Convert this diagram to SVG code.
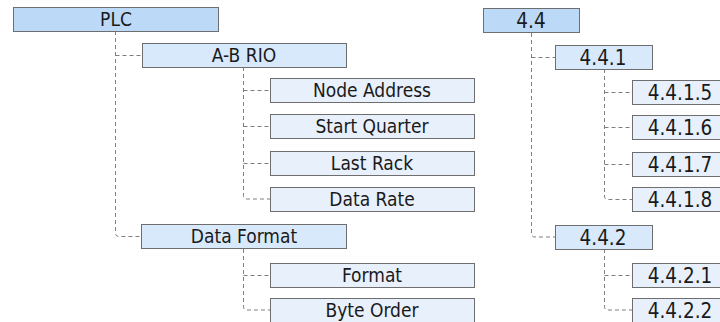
<svg xmlns="http://www.w3.org/2000/svg" width="720" height="322" viewBox="0 0 720 322">
<style>
.b{stroke:#6e6e6e;stroke-width:1}
.l1{fill:#bcdaf8}
.l2{fill:#d8e9fb}
.l3{fill:#e8f0fc}
.t{font-family:"DejaVu Sans Condensed","DejaVu Sans",sans-serif;font-stretch:condensed;fill:#1a1a1a;text-anchor:middle}
.tl{font-size:19px}
.tr{font-size:20.5px}
.c{fill:none;stroke:#7e7e7e;stroke-width:1;stroke-dasharray:4 3}
</style>
<rect width="720" height="322" fill="#ffffff"/>
<g id="connectors">
<path class="c" d="M115.5 31V233q0 3.5 3.5 3.5H141.5"/>
<path class="c" d="M115.5 55.5H142"/>
<path class="c" d="M243.5 67V195.5q0 3.5 3.5 3.5H270"/>
<path class="c" d="M243.5 90.5H270M243.5 126.5H270M243.5 163.5H270"/>
<path class="c" d="M243.5 249V306.5q0 3.5 3.5 3.5H270"/>
<path class="c" d="M243.5 275.5H270"/>
<path class="c" d="M531.5 33V233.5q0 3.5 3.5 3.5H555"/>
<path class="c" d="M531.5 57.5H555"/>
<path class="c" d="M604.5 69V196q0 3.5 3.5 3.5H632"/>
<path class="c" d="M604.5 92.5H632M604.5 127.5H632M604.5 164.5H632"/>
<path class="c" d="M604.5 249V306.5q0 3.5 3.5 3.5H632"/>
<path class="c" d="M604.5 275.5H632"/>
</g>
<g id="n-plc"><rect class="b l1" x="13.5" y="7.5" width="205" height="24"/><text class="t tl" x="116" y="26">PLC</text></g>
<g id="n-abrio"><rect class="b l2" x="142.5" y="43.5" width="204" height="24"/><text class="t tl" x="244" y="62">A-B RIO</text></g>
<g id="n-node"><rect class="b l3" x="270.5" y="78.5" width="204" height="24"/><text class="t tl" x="372" y="97">Node Address</text></g>
<g id="n-start"><rect class="b l3" x="270.5" y="114.5" width="204" height="24"/><text class="t tl" x="372" y="133">Start Quarter</text></g>
<g id="n-last"><rect class="b l3" x="270.5" y="151.5" width="204" height="24"/><text class="t tl" x="372" y="170">Last Rack</text></g>
<g id="n-rate"><rect class="b l3" x="270.5" y="187.5" width="204" height="24"/><text class="t tl" x="372" y="206">Data Rate</text></g>
<g id="n-dataformat"><rect class="b l2" x="141.5" y="224.5" width="205" height="24"/><text class="t tl" x="244" y="243">Data Format</text></g>
<g id="n-format"><rect class="b l3" x="270.5" y="263.5" width="204" height="24"/><text class="t tl" x="372" y="282">Format</text></g>
<g id="n-byte"><rect class="b l3" x="270.5" y="298.5" width="204" height="24"/><text class="t tl" x="372" y="317">Byte Order</text></g>
<g id="n-44"><rect class="b l1" x="483.5" y="8.5" width="96" height="24"/><text class="t tr" x="531" y="28">4.4</text></g>
<g id="n-441"><rect class="b l2" x="555.5" y="45.5" width="97" height="24"/><text class="t tr" x="603" y="65">4.4.1</text></g>
<g id="n-4415"><rect class="b l3" x="632.5" y="80.5" width="97" height="24"/><text class="t tr" x="680" y="100">4.4.1.5</text></g>
<g id="n-4416"><rect class="b l3" x="632.5" y="115.5" width="97" height="24"/><text class="t tr" x="680" y="135">4.4.1.6</text></g>
<g id="n-4417"><rect class="b l3" x="632.5" y="152.5" width="97" height="24"/><text class="t tr" x="680" y="172">4.4.1.7</text></g>
<g id="n-4418"><rect class="b l3" x="632.5" y="187.5" width="97" height="24"/><text class="t tr" x="680" y="207">4.4.1.8</text></g>
<g id="n-442"><rect class="b l2" x="555.5" y="225.5" width="97" height="24"/><text class="t tr" x="603" y="245">4.4.2</text></g>
<g id="n-4421"><rect class="b l3" x="632.5" y="263.5" width="97" height="24"/><text class="t tr" x="680" y="283">4.4.2.1</text></g>
<g id="n-4422"><rect class="b l3" x="632.5" y="298.5" width="97" height="24"/><text class="t tr" x="680" y="318">4.4.2.2</text></g>
</svg>
